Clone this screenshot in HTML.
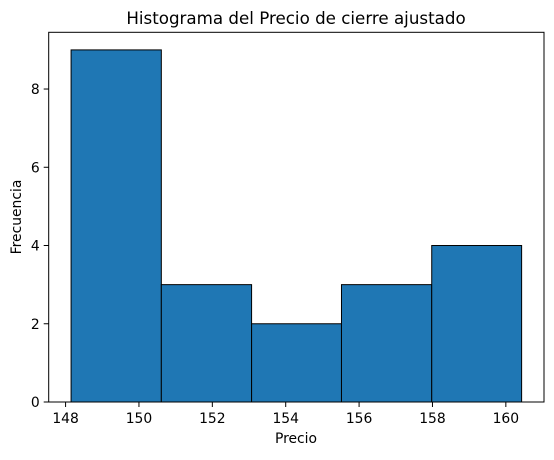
<!DOCTYPE html>
<html><head><meta charset="utf-8"><style>
body{margin:0;background:#fff;}
svg text{font-family:"DejaVu Sans","Liberation Sans",sans-serif;fill:#000;}
</style></head><body>
<svg id="chart" width="554" height="455" xmlns="http://www.w3.org/2000/svg">
<text x="296" y="24" style="font-size:16.7px" text-anchor="middle">Histograma del Precio de cierre ajustado</text>
<g id="bars"></g><g id="axes"></g>
<text x="296" y="443" style="font-size:13.9px" text-anchor="middle">Precio</text>
<text x="21" y="217" style="font-size:13.9px" text-anchor="middle" transform="rotate(-90 21 217)">Frecuencia</text>
</svg>
<script>
const binEdges=[148.15,150.61,153.07,155.52,157.98,160.43];
const counts=[9,3,2,3,4];
const xTicks=[148,150,152,154,156,158,160];
const yTicks=[0,2,4,6,8];
const L=48.7,R=544,T=32.3,B=402;
const xMin=147.54,xMax=161.04,yMax=9.45;
const sx=v=>L+(v-xMin)/(xMax-xMin)*(R-L);
const sy=v=>B-v/yMax*(B-T);
const NS="http://www.w3.org/2000/svg";
const bars=document.getElementById('bars'),axes=document.getElementById('axes');
function mk(tag,attrs,parent){const e=document.createElementNS(NS,tag);for(const k in attrs)e.setAttribute(k,attrs[k]);parent.appendChild(e);return e;}
counts.forEach((c,i)=>{
const r=mk('rect',{x:sx(binEdges[i]),y:sy(c),width:sx(binEdges[i+1])-sx(binEdges[i]),height:sy(0)-sy(c),fill:'#1f77b4',stroke:'#000','stroke-width':1},bars);


});
const frame=mk('rect',{x:L,y:T,width:R-L,height:B-T,fill:'none',stroke:'#000','stroke-width':1},axes);


xTicks.forEach(t=>{
const x=sx(t);
mk('line',{x1:x,x2:x,y1:B,y2:B+5,stroke:'#000'},axes);
const tx=mk('text',{x:x,y:B+21,style:'font-size:13.9px','text-anchor':'middle'},axes);
tx.textContent=t;


});
yTicks.forEach(t=>{
const y=sy(t);
mk('line',{x1:L-5,x2:L,y1:y,y2:y,stroke:'#000'},axes);
const tx=mk('text',{x:L-9,y:y+5,style:'font-size:13.9px','text-anchor':'end'},axes);
tx.textContent=t;


});
</script>
</body></html>
